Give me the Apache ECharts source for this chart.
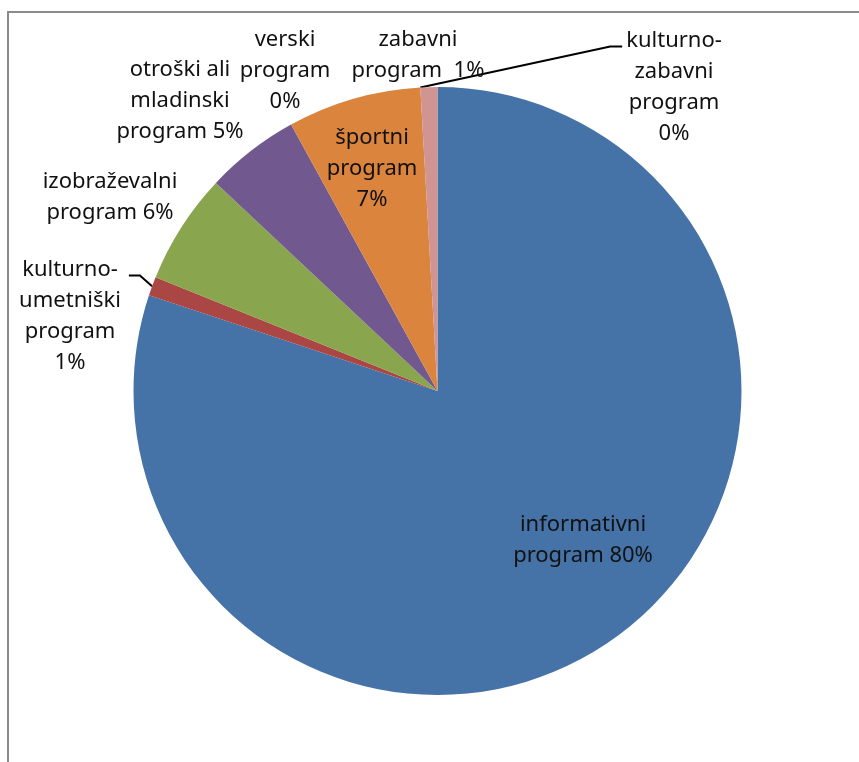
<!DOCTYPE html>
<html>
<head>
<meta charset="utf-8">
<script src="https://cdn.jsdelivr.net/npm/echarts@6/dist/echarts.min.js"></script>
<style>
  html, body { margin: 0; padding: 0; background: #fff; }
  #pie { width: 859px; height: 762px; }
</style>
</head>
<body>
<div id="pie"></div>
<script>
// slices, clockwise from 12 o'clock
var categories = [
  "informativni program",
  "kulturno-umetniški program",
  "izobraževalni program",
  "otroški ali mladinski program",
  "verski program",
  "športni program",
  "kulturno-zabavni program",
  "zabavni program"
];
var values = [80.1, 1.0, 5.9, 5.0, 0, 7.1, 0, 0.9];
var labelTexts = [
  "informativni\nprogram 80%",
  "kulturno-\numetniški\nprogram\n1%",
  "izobraževalni\nprogram 6%",
  "otroški ali\nmladinski\nprogram 5%",
  "verski\nprogram\n0%",
  "športni\nprogram\n7%",
  "kulturno-\nzabavni\nprogram\n0%",
  "zabavni\nprogram  1%"
];

var colors = ["#4572A7", "#AA4643", "#89A54E", "#71588F", "#4198AF", "#DB843D", "#5B7FB0", "#D09493"];
// where each label sits (text centre)
var labelSpots = [
  [583, 540], [70, 316], [110, 197], [180, 101],
  [285, 71], [372, 169], [674, 87], [418, 55]
];
// leader line: 1 = goes off to the left label, -1 = to the right label, 0 = none
var lineSide = [0, -1, 0, 0, 0, 0, 1, 0];
var LINE_H = 31;

var myChart = echarts.init(document.getElementById("pie"), null, { renderer: "canvas" });

var pieData = categories.map(function (name, i) {
  return {
    name: name,
    value: values[i],
    itemStyle: { color: colors[i] },
    labelLine: { show: lineSide[i] !== 0 }
  };
});

function sliceEdgePoint(idx) {
  var lay = myChart.getModel().getSeriesByIndex(0).getData().getItemLayout(idx);
  var mid = (lay.startAngle + lay.endAngle) / 2;
  return [lay.cx + lay.r * Math.cos(mid), lay.cy + lay.r * Math.sin(mid)];
}

var option = {
  animation: false,
  graphic: [
    {
      type: "rect",
      shape: { x: 8, y: 12, width: 900, height: 800 },
      style: { fill: "none", stroke: "#8a8a8a", lineWidth: 2 },
      silent: true
    }
  ],
  series: [
    {
      type: "pie",
      center: [437.5, 391],
      radius: 304,
      startAngle: 90,
      clockwise: true,
      avoidLabelOverlap: false,
      data: pieData,
      label: {
        show: true,
        position: "outside",
        formatter: function (p) {
          return labelTexts[p.dataIndex];
        },
        fontFamily: "Noto Sans",
        fontSize: 22,
        lineHeight: LINE_H,
        color: "#111",
        align: "center"
      },
      labelLine: {
        show: false,
        length: 10,
        length2: 8,
        lineStyle: { color: "#000", width: 2 }
      },
      labelLayout: function (params) {
        var i = params.dataIndex;
        var s = labelSpots[i];
        var out = { x: s[0], y: s[1], align: "center", verticalAlign: "middle" };
        var side = lineSide[i];
        if (side !== 0) {
          var nLines = labelTexts[i].split("\n").length;
          var yLine = s[1] - (nLines - 1) * LINE_H / 2 + 6;
          var halfW = params.labelRect.width / 2;
          var xEnd, xBend;
          if (side < 0) {
            xEnd = s[0] + halfW + 8;
            xBend = xEnd + 11;
          } else {
            xEnd = s[0] - halfW - 4;
            xBend = xEnd - 12;
          }
          try {
            out.labelLinePoints = [sliceEdgePoint(i), [xBend, yLine], [xEnd, yLine]];
          } catch (e) {}
        }
        return out;
      },
      emphasis: { disabled: true }
    }
  ]
};

myChart.setOption(option);
window.addEventListener("resize", myChart.resize);
</script>
</body>
</html>
